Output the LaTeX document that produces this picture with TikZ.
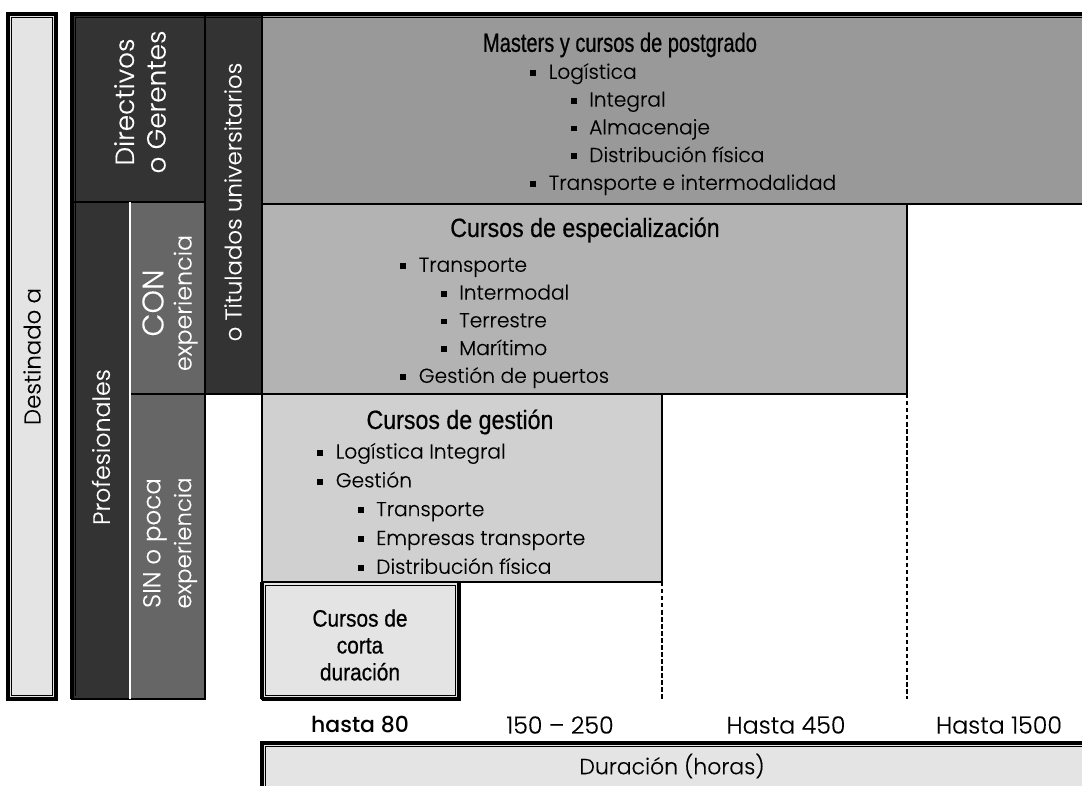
\documentclass[tikz,border=0pt]{standalone}
\usepackage{fontspec}
\setmainfont{Poppins Light}[FakeBold=0.3, BoldFont=Poppins Medium, BoldFeatures={FakeBold=0}]
\newfontfamily\headfont[FakeStretch=0.88, FakeBold=0.6]{Liberation Sans}
\newfontfamily\mastersfont[FakeStretch=0.76, FakeBold=0.6]{Liberation Sans}
\usetikzlibrary{calc}

\definecolor{darkcell}{HTML}{333333}
\definecolor{midcell}{HTML}{666666}
\definecolor{masterscell}{HTML}{999999}
\definecolor{especcell}{HTML}{B3B3B3}
\definecolor{gestioncell}{HTML}{D0D0D0}
\definecolor{lightcell}{HTML}{E4E4E4}

\newcommand{\itm}{\makebox[10.5pt][l]{\rule[1.6pt]{3.4pt}{3.4pt}}}
\newcommand{\subitm}{\hspace{23pt}\itm}

\begin{document}
\begin{tikzpicture}[x=0.02cm, y=-0.02cm,
	cell/.style 2 args={draw, line width=1.2pt, inner sep=0pt, outer sep=0pt, minimum width=#1*0.02cm, minimum height=#2*0.02cm},
	frameline/.style={line width=2pt},
	innerline/.style={line width=0.5pt},
	side/.style={rotate=90, text=white, align=center, font=\fontsize{13}{18}\selectfont},
	title/.style={font=\headfont\fontsize{15}{17}\selectfont},
	shorttitle/.style={align=center, font=\headfont\fontsize{13.5}{15.3}\selectfont},
	list/.style={anchor=north west, align=left, inner sep=0pt, font=\fontsize{11.5}{15.8}\selectfont},
	hours/.style={font=\fontsize{13.5}{15}\selectfont},
	tick/.style={dashed, dash pattern=on 2.5pt off 1.5pt, line width=0.8pt}]

	\useasboundingbox (0,0) rectangle (1082,785);

	% Target groups
	\node[cell={48}{685}, fill=lightcell](destinado) at (32,356.5) {};
	\node[cell={133}{188}, fill=darkcell](directivos) at (138.5,108) {};
	\node[cell={57}{380}, fill=darkcell](titulados) at (233.5,204) {};
	\node[cell={58}{497}, fill=darkcell](profesionales) at (101,450.5) {};
	\node[cell={75}{192}, fill=midcell](con) at (167.5,298) {};
	\node[cell={75}{305}, fill=midcell](sin) at (167.5,546.5) {};

	% Courses
	\node[cell={828}{190}, fill=masterscell](masters) at (676,109) {};
	\node[cell={645}{190}, fill=especcell](espec) at (584.5,299) {};
	\node[cell={400}{188}, fill=gestioncell](gestion) at (462,488) {};
	\node[cell={197}{117}, fill=lightcell](corta) at (360.5,640.5) {};
	\node[cell={828}{60}, fill=lightcell](duracion) at (676,773) {};

	% Frames
	\draw[white, line width=0.6pt] (con.north west) -- (sin.south west);
	\draw[frameline] (profesionales.south west) -- (directivos.north west) -- (masters.north east);
	\draw[innerline] ([shift={(3.5,-3.5)}]profesionales.south west) -- ([shift={(3.5,3.5)}]directivos.north west) -- ([shift={(0,3.5)}]masters.north east);
	\draw[frameline] (destinado.north west) rectangle (destinado.south east);
	\draw[innerline] ([shift={(3.5,3.5)}]destinado.north west) rectangle ([shift={(-3.5,-3.5)}]destinado.south east);
	\draw[frameline] (corta.south west) -- (corta.north west) (corta.north east) -- (corta.south east) -- (corta.south west);
	\draw[innerline] ([shift={(3.5,3.5)}]corta.north west) rectangle ([shift={(-3.5,-3.5)}]corta.south east);
	\draw[frameline] (duracion.south west) -- (duracion.north west) -- (duracion.north east);
	\draw[innerline] ([shift={(3.5,0)}]duracion.south west) -- ([shift={(3.5,3.5)}]duracion.north west) -- ([shift={(0,3.5)}]duracion.north east);

	% Duration limits
	\draw[tick] (gestion.south east) -- (gestion.south east |- corta.south);
	\draw[tick] (espec.south east) -- (espec.south east |- corta.south);

	% Side labels
	\node[side, text=black](destinadoTxt) at (destinado.center) {Destinado a};
	\node[side, font=\fontsize{15}{18}\selectfont](directivosTxt) at (140,102) {Directivos\\o Gerentes};
	\node[side](tituladosTxt) at (233,202) {o Titulados universitarios};
	\node[side, font=\fontsize{13.5}{18}\selectfont](profesionalesTxt) at (101,447) {Profesionales};
	\node[side, font=\fontsize{13.5}{16}\selectfont](conTxt) at (170,303) {{\fontsize{17}{16}\selectfont CON}\\experiencia};
	\node[side, font=\fontsize{13}{17.5}\selectfont](sinTxt) at (170,543) {{\fontsize{14}{17.5}\selectfont SIN o poca}\\experiencia};

	% Course contents
	\node[title, font=\mastersfont\fontsize{15}{17}\selectfont](mastersTit) at (620,45) {Masters y cursos de postgrado};
	\node[list](mastersList) at (530,59) {\strut\itm Logística\\ \subitm Integral\\ \subitm Almacenaje\\ \subitm Distribución física\\ \itm Transporte e intermodalidad};

	\node[title](especTit) at (585,230) {Cursos de especialización};
	\node[list](especList) at (400,252) {\strut\itm Transporte\\ \subitm Intermodal\\ \subitm Terrestre\\ \subitm Marítimo\\ \itm Gestión de puertos};

	\node[title](gestionTit) at (460,422) {Cursos de gestión};
	\node[list, font=\fontsize{11.5}{16.4}\selectfont](gestionList) at (317,438) {\strut\itm Logística Integral\\ \itm Gestión\\ \subitm Transporte\\ \subitm Empresas transporte\\ \subitm Distribución física};

	\node[shorttitle](cortaTit) at (360,645) {Cursos de\\corta\\duración};

	% Hours
	\node[hours, font=\fontsize{12.5}{15}\selectfont](h80) at (360,725) {\textbf{hasta 80}};
	\node[hours](h250) at (560,725) {150 -- 250};
	\node[hours](h450) at (786,725) {Hasta 450};
	\node[hours](h1500) at (999,725) {Hasta 1500};
	\node[hours, font=\fontsize{12.5}{15}\selectfont](duracionTxt) at (672,766) {Duración (horas)};

\end{tikzpicture}
\end{document}
